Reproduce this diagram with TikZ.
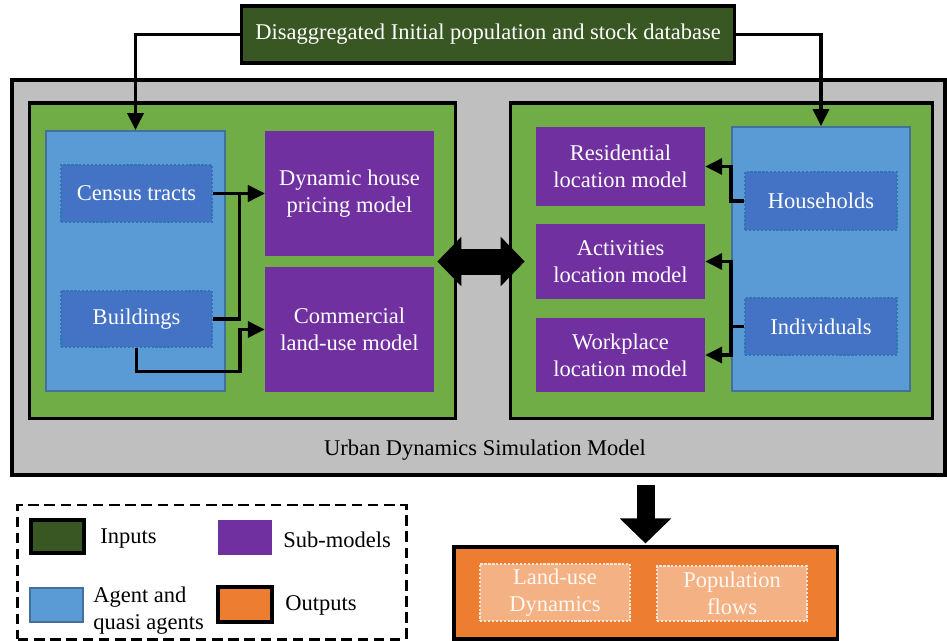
\documentclass[tikz,border=0pt]{standalone}
\usepackage{fontspec}
\setmainfont{Liberation Serif}
\usetikzlibrary{arrows.meta,calc}
\definecolor{indark}{HTML}{385723}
\definecolor{panelgreen}{HTML}{70AD47}
\definecolor{simgray}{HTML}{BFBFBF}
\definecolor{agentblue}{HTML}{5B9BD5}
\definecolor{agentline}{HTML}{41719C}
\definecolor{innerblue}{HTML}{4472C4}
\definecolor{innerline}{HTML}{2E75B6}
\definecolor{submodel}{HTML}{7030A0}
\definecolor{outorange}{HTML}{ED7D31}
\definecolor{outlight}{HTML}{F4B183}
\definecolor{outline}{HTML}{FBE5D6}

\begin{document}
\begin{tikzpicture}[x=0.025cm,y=-0.025cm,font=\fontsize{16}{19.2}\selectfont]
\tikzstyle{box}=[rectangle,inner sep=0,align=center,text=white]
\tikzstyle{black frame}=[draw=black,line width=2.2pt]
\tikzstyle{agent box}=[box,fill=agentblue,draw=agentline,line width=1.4pt]
\tikzstyle{agent item}=[box,fill=innerblue,draw=innerline,line width=1.6pt,dash pattern=on 1.6pt off 1.2pt,minimum width=3.8cm]
\tikzstyle{sub model}=[box,fill=submodel,minimum width=4.225cm]
\tikzstyle{out item}=[box,fill=outlight,draw=outline,line width=1.6pt,dash pattern=on 1.6pt off 1.2pt,minimum width=3.75cm,text=white!95!orange]
\tikzstyle{link}=[line width=2.3pt,-{Triangle[width=0.4cm,length=0.42cm]}]
\tikzstyle{legend text}=[anchor=west,inner sep=0,align=left]
\useasboundingbox (0,0) rectangle (947,640);
\node(input)[box,black frame,fill=indark,minimum width=12.3cm,minimum height=1.425cm] at (488,34.5) {Disaggregated Initial population and stock database};
\node(udsm)[box,draw=black,line width=2.4pt,fill=simgray,minimum width=23.325cm,minimum height=9.875cm] at (478.5,277.5) {};
\node(lgreen)[box,black frame,fill=panelgreen,minimum width=10.625cm,minimum height=7.875cm] at (242.5,260.5) {};
\node(rgreen)[box,black frame,fill=panelgreen,minimum width=10.525cm,minimum height=7.875cm] at (721.5,260.5) {};
\node(lblue)[agent box,minimum width=4.475cm,minimum height=6.5cm] at (135.5,261) {};
\node(census)[agent item,minimum width=3.775cm,minimum height=1.425cm] at (136.5,193.5) {Census tracts};
\node(buildings)[agent item,minimum width=3.775cm,minimum height=1.4cm] at (136.5,319) {Buildings};
\node(dynamic)[sub model,minimum height=3.125cm] at (349.5,193.5) {Dynamic house\\pricing model};
\node(commercial)[sub model,minimum height=3.125cm] at (349.5,329.5) {Commercial\\land-use model};
\node(rblue)[agent box,minimum width=4.45cm,minimum height=6.6cm] at (821,259) {};
\node(households)[agent item,minimum height=1.45cm] at (821,201) {Households};
\node(individuals)[agent item,minimum height=1.425cm] at (821,326.5) {Individuals};
\node(residential)[sub model,minimum height=1.975cm] at (620.5,166.5) {Residential\\location model};
\node(activities)[sub model,minimum height=1.875cm] at (620.5,261.5) {Activities\\location model};
\node(workplace)[sub model,minimum height=1.85cm] at (620.5,355) {Workplace\\location model};
\node(udsmlabel) at (485,450) {Urban Dynamics Simulation Model};
\node(output)[box,black frame,fill=outorange,minimum width=9.575cm,minimum height=2.3cm] at (645.5,593) {};
\node(landuse)[out item,minimum height=1.425cm] at (555,592.5) {Land-use\\Dynamics};
\node(popflows)[out item,minimum height=1.375cm] at (732,593.5) {Population\\flows};
\node(legend)[draw=black,line width=2.1pt,dash pattern=on 7.5pt off 4pt,minimum width=9.7cm,minimum height=3.35cm,inner sep=0] at (212,572) {};
\node(insw)[box,black frame,fill=indark,minimum width=1.325cm,minimum height=0.825cm] at (57.5,536.5) {};
\node(subsw)[box,fill=submodel,minimum width=1.35cm,minimum height=0.875cm] at (245,537.5) {};
\node(agsw)[agent box,minimum width=1.325cm,minimum height=0.85cm] at (56.5,605) {};
\node(outsw)[box,black frame,fill=outorange,minimum width=1.35cm,minimum height=0.875cm] at (245,604.5) {};
\node(inlab)[legend text] at (100,539) {Inputs};
\node(sublab)[legend text] at (283,540) {Sub-models};
\node(aglab)[legend text] at (93,610.5) {Agent and\\quasi agents};
\node(outlab)[legend text] at (285,605) {Outputs};
\coordinate(lgap) at ($(dynamic.south east)!0.5!(commercial.north east)$);
\draw[link] (input.west) -| (lblue.north);
\draw[link] (input.east) -| (rblue.north);
\draw[link] (census.east) -- (dynamic.west);
\draw[link] (buildings.east) -- ++(26,0) |- (dynamic.west);
\draw[link] (buildings.south) -- ++(0,23) -- ++(103.5,0) |- (commercial.west);
\draw[link] (households.west) -- (rblue.west |- households.west) |- (residential.east);
\draw[link] (individuals.west) -- (rblue.west |- individuals.west) |- (activities.east);
\draw[link] (rblue.west |- individuals.west) |- (workplace.east);
\draw[line width=0.65cm,{Triangle[width=1.2cm,length=0.6cm]}-{Triangle[width=1.2cm,length=0.6cm]},shorten <=0.075cm,shorten >=0.275cm] (lgap) -- (activities.west);
\draw[line width=0.45cm,-{Triangle[width=1.25cm,length=0.625cm]},shorten <=0.2cm,shorten >=0.05cm] (output.north |- udsm.south) -- (output.north);
\end{tikzpicture}
\end{document}
